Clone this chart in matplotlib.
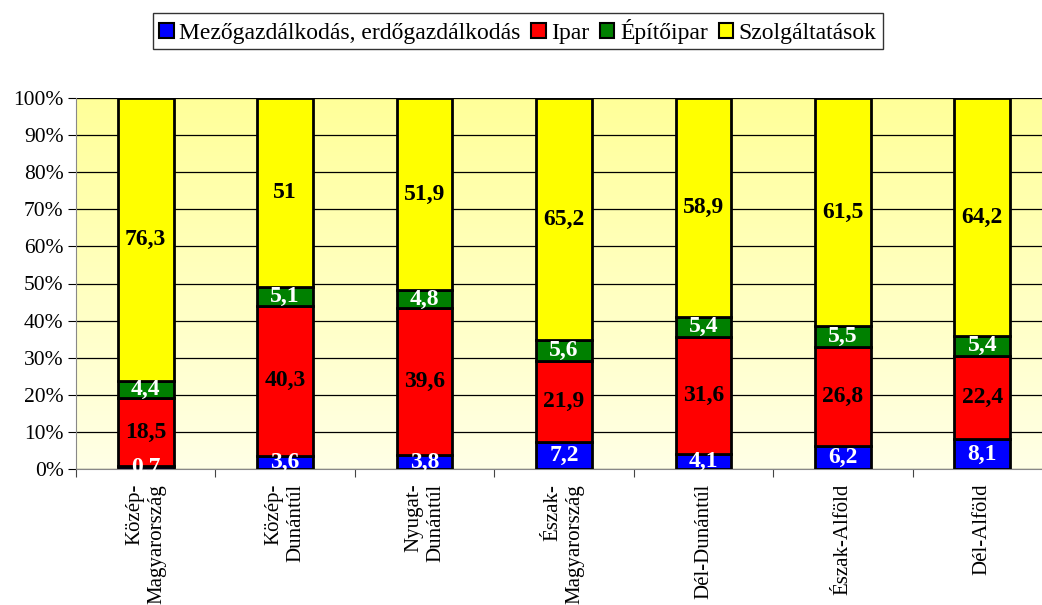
import numpy as np
import matplotlib as mpl
import matplotlib.pyplot as plt

mpl.use('Agg')
plt.rcParams['font.family'] = ['Liberation Serif', 'DejaVu Serif']

regiok = ["Közép-\nMagyarország", "Közép-\nDunántúl", "Nyugat-\nDunántúl",
          "Észak-\nMagyarország", "Dél-Dunántúl", "Észak-Alföld", "Dél-Alföld"]
sorozatok = ["Mezőgazdálkodás, erdőgazdálkodás", "Ipar", "Építőipar", "Szolgáltatások"]
mezogazd = [0.7, 3.6, 3.8, 7.2, 4.1, 6.2, 8.1]
ipar = [18.5, 40.3, 39.6, 21.9, 31.6, 26.8, 22.4]
epitoipar = [4.4, 5.1, 4.8, 5.6, 5.4, 5.5, 5.4]
szolg = [76.3, 51, 51.9, 65.2, 58.9, 61.5, 64.2]

szinek = ["#0000FF", "#FF0000", "#008000", "#FFFF00"]
cimke_szin = ["white", "black", "white", "black"]

def fmt(v):
    if v == int(v):
        return str(int(v))
    return str(v).replace('.', ',')

fig = plt.figure(figsize=(10.42, 6.05), dpi=100)
ax = fig.add_axes([76/1042, 136/605, 976/1042, 371/605])

# halvány sárga színátmenetes háttér
grad = np.linspace(0, 1, 256).reshape(-1, 1)
cmap = mpl.colors.LinearSegmentedColormap.from_list("bg", ["#FFFFE6", "#FFFF99"])
ax.imshow(grad, aspect='auto', cmap=cmap, origin='lower',
          extent=[-0.5, 6.5, 0, 1], zorder=0)

adatok = np.array([mezogazd, ipar, epitoipar, szolg])
osszeg = adatok.sum(axis=0)
arany = adatok / osszeg

x = np.arange(len(regiok))
also = np.zeros(len(regiok))
for i in range(4):
    ax.bar(x, arany[i], 0.4, bottom=also, color=szinek[i], edgecolor='black',
           linewidth=2.0, label=sorozatok[i], zorder=3)
    for j in range(len(regiok)):
        ax.text(x[j], also[j] + arany[i][j] / 2, fmt(adatok[i][j]),
                ha='center', va='center', fontsize=17, fontweight='bold',
                color=cimke_szin[i], zorder=4)
    also += arany[i]

ax.set_xlim(-0.5, 6.5)
ax.set_ylim(0, 1)
ax.set_yticks(np.arange(0, 1.01, 0.1))
ax.set_yticklabels([f"{int(round(t*100))}%" for t in np.arange(0, 1.01, 0.1)], fontsize=15.5)
ax.yaxis.grid(True, color='black', linewidth=0.9, zorder=1)
ax.set_axisbelow(True)

ax.set_xticks(np.arange(-0.5, 6.6, 1))
ax.set_xticklabels([])
ax.tick_params(axis='x', length=6, color='#444444')
ax.tick_params(axis='y', length=6, color='black', pad=3)
for j, r in enumerate(regiok):
    ax.text(x[j], -0.04, r, rotation=90, ha='center', va='top',
            multialignment='right', fontsize=15, transform=ax.transData)

for s in ['top', 'right']:
    ax.spines[s].set_visible(False)
ax.spines['left'].set_color('#888888')
ax.spines['bottom'].set_color('#888888')

leg = fig.legend(loc='center', bbox_to_anchor=(518/1042, 1 - 31/605), ncol=4,
                 fontsize=17, frameon=True, fancybox=False, edgecolor='black',
                 handlelength=0.6, handleheight=0.6, handletextpad=0.25,
                 columnspacing=0.45, borderpad=0.25)
leg.get_frame().set_linewidth(1.0)
for h in leg.legend_handles:
    h.set_linewidth(1.5)

fig.savefig('out.png', dpi=100)
